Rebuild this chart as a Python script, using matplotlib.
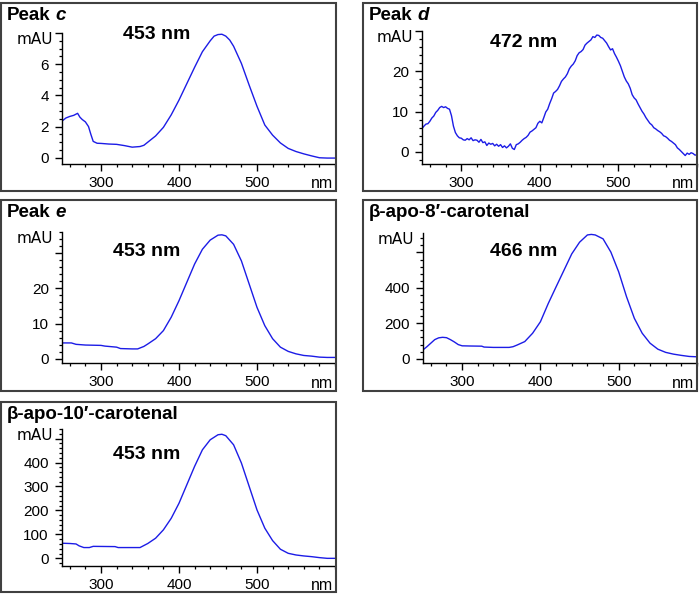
import matplotlib
matplotlib.use("Agg")
import matplotlib.pyplot as plt
from matplotlib.patches import Rectangle
from matplotlib.ticker import MultipleLocator, FixedLocator

plt.rcParams['font.family'] = ['Liberation Sans', 'DejaVu Sans']

W, H = 700, 594
line_color = "#1c1ce6"
box_color = "#404040"

# Peak c
wl_c = [250, 255, 260, 265, 270, 273, 276, 280, 284, 287, 290, 295, 300, 310, 320, 330,
        340, 350, 355, 360, 370, 380, 390, 400, 410, 420, 430, 440, 445, 450, 455, 460,
        465, 470, 480, 490, 500, 510, 520, 530, 540, 550, 560, 570, 580, 590, 600]
abs_c = [2.35, 2.55, 2.65, 2.72, 2.85, 2.6, 2.45, 2.3, 2.0, 1.5, 1.05, 0.93, 0.92, 0.88, 0.86, 0.78,
         0.68, 0.72, 0.8, 1.0, 1.4, 1.95, 2.75, 3.7, 4.75, 5.8, 6.8, 7.5, 7.8, 7.9, 7.92, 7.8,
         7.55, 7.15, 6.05, 4.65, 3.3, 2.1, 1.45, 0.95, 0.6, 0.4, 0.25, 0.12, 0.0, -0.02, -0.02]

# Peak d (noisy trace, read every 2.5 nm from 250 nm)
abs_d = [5.8, 6.4, 6.9, 7.0, 7.6, 8.4, 8.9, 9.8, 10.3, 11.0, 11.3, 11.0, 11.2, 10.8, 10.6, 9.0,
         6.4, 4.8, 4.0, 3.5, 3.4, 3.0, 2.9, 3.3, 3.0, 3.5, 2.8, 3.0, 2.9, 2.4, 3.1, 2.3,
         2.5, 1.6, 2.2, 1.9, 2.1, 1.5, 1.9, 1.4, 1.8, 1.1, 1.5, 1.0, 1.4, 2.0, 0.9, 0.6,
         1.8, 2.0, 2.4, 2.9, 3.3, 3.6, 4.1, 4.9, 5.2, 5.6, 6.0, 7.1, 7.6, 7.2, 8.5, 9.9,
         10.6, 12.0, 13.2, 14.6, 15.0, 15.5, 16.4, 17.5, 18.1, 18.6, 19.4, 20.6, 21.3, 21.8,
         22.6, 23.9, 24.6, 24.9, 25.4, 26.5, 27.0, 27.4, 27.8, 28.6, 28.4, 29.0, 28.9, 28.4,
         28.2, 27.6, 27.0, 26.1, 25.3, 25.6, 24.4, 23.5, 22.5, 21.4, 20.0, 18.6, 17.6, 16.9,
         15.8, 14.2, 13.4, 12.9, 11.9, 11.0, 10.1, 9.4, 8.5, 7.8, 7.1, 6.7, 6.0, 5.7,
         5.3, 5.0, 4.6, 4.0, 3.8, 3.4, 2.9, 2.6, 2.2, 1.8, 1.0, 0.6, 0.1, -0.4, -0.9, -0.3,
         -0.6, -0.2, -0.4, -0.8, -0.7]
wl_d = [250 + 2.5 * i for i in range(len(abs_d))]

# Peak e
wl_e = [250, 262, 268, 280, 300, 305, 320, 325, 340, 347, 355, 360, 370, 380, 390, 400,
        410, 420, 430, 440, 450, 455, 460, 470, 480, 490, 500, 510, 520, 530, 540, 550,
        560, 570, 580, 590, 600]
abs_e = [4.5, 4.5, 4.1, 3.9, 3.8, 3.6, 3.3, 2.9, 2.8, 2.8, 3.5, 4.2, 5.7, 8.0, 11.8, 16.5,
         21.7, 26.9, 31.1, 33.7, 35.1, 35.2, 34.9, 32.5, 27.8, 21.2, 14.6, 9.4, 5.7, 3.3, 2.1, 1.4,
         0.94, 0.75, 0.47, 0.38, 0.38]

# beta-apo-8'-carotenal
wl_8 = [250, 255, 260, 265, 270, 275, 280, 285, 290, 295, 300, 310, 325, 328, 340, 360,
        365, 370, 380, 390, 400, 410, 420, 430, 440, 450, 460, 465, 470, 480, 490, 500,
        510, 520, 530, 540, 550, 560, 570, 580, 590, 600]
abs_8 = [50, 68, 88, 108, 118, 121, 119, 108, 95, 80, 73, 72, 71, 66, 64, 64,
         68, 77, 97, 144, 209, 312, 406, 499, 592, 658, 699, 702, 699, 677, 602, 490,
         350, 228, 144, 88, 54, 36, 26, 19, 13, 11]

# beta-apo-10'-carotenal
wl_10 = [250, 260, 268, 272, 278, 285, 290, 318, 322, 350, 360, 370, 380, 390, 400, 410,
         420, 430, 440, 450, 455, 460, 470, 480, 490, 500, 510, 520, 530, 540, 550, 560,
         570, 580, 590, 600]
abs_10 = [63, 62, 60, 52, 45, 45, 50, 49, 45, 45, 62, 84, 119, 167, 230, 307,
          384, 453, 495, 516, 518, 512, 474, 398, 300, 202, 126, 74, 38, 21, 14, 10,
          7, 3, 0, 0]

x_major = [300, 400, 500]


def fx(px):
    return px / W


def fy(py):
    return 1 - py / H


def panel(box, axr, wl, ab, ylim, yticks, ylabels, yminor, title, title_it, peak, peak_xy):
    bl, bt, br, bb = box
    fig.add_artist(Rectangle((fx(bl), fy(bb)), fx(br - bl), (bb - bt) / H,
                             transform=fig.transFigure, fill=False,
                             edgecolor=box_color, linewidth=1.5))
    al, at, ar, ab_ = axr
    ax = fig.add_axes([fx(al), fy(ab_), fx(ar - al), (ab_ - at) / H])
    ax.patch.set_alpha(0)
    ax.plot(wl, ab, color=line_color, linewidth=1.0)
    ax.set_xlim(250, 600)
    ax.set_ylim(*ylim)
    ax.xaxis.set_major_locator(FixedLocator(x_major))
    ax.xaxis.set_minor_locator(MultipleLocator(20))
    ax.yaxis.set_major_locator(FixedLocator(yticks))
    ax.set_yticklabels(ylabels)
    ax.yaxis.set_minor_locator(MultipleLocator(yminor))
    for s in ["top", "right"]:
        ax.spines[s].set_visible(False)
    for s in ["left", "bottom"]:
        ax.spines[s].set_linewidth(1.0)
    ax.tick_params(which="major", direction="out", length=5, width=1.0,
                   labelsize=11, pad=3.5)
    ax.tick_params(which="minor", direction="out", length=2.5, width=0.9)
    ax.tick_params(axis="y", which="major", pad=4.5)

    t = fig.text(fx(bl + 6), fy(bt + 17), title, ha="left", va="baseline",
                 fontsize=13.5, fontweight="bold")
    if title_it:
        ax.annotate(title_it, xy=(1, 0), xycoords=t, xytext=(3.5, 0),
                    textcoords="offset points", ha="left", va="bottom",
                    fontsize=13.5, fontweight="bold", fontstyle="italic",
                    annotation_clip=False)
    fig.text(fx(al - 9), fy(at + 6), "mAU", ha="right", va="center",
             fontsize=11, family="DejaVu Sans")
    fig.text(fx(br - 3), fy(ab_ + 20), "nm", ha="right", va="center", fontsize=11.5)
    fig.text(fx(peak_xy[0]), fy(peak_xy[1]), peak, ha="left", va="baseline",
             fontsize=14, fontweight="bold")
    return ax


fig = plt.figure(figsize=(7, 5.94), dpi=100)

panel((1, 3, 336, 191), (62, 33, 335, 164), wl_c, abs_c, (-0.4, 8),
      [0, 2, 4, 6, 8], ["0", "2", "4", "6", ""], 0.5, "Peak", "c", "453 nm", (123, 39))
panel((363, 3, 697, 191), (422, 31, 697, 164), wl_d, abs_d, (-3, 30),
      [0, 10, 20, 30], ["0", "10", "20", ""], 2, "Peak", "d", "472 nm", (490, 47))
panel((1, 200, 336, 391), (62, 232, 335, 363), wl_e, abs_e, (-1.2, 36),
      [0, 10, 20, 30], ["0", "10", "20", ""], 2, "Peak", "e", "453 nm", (113, 256))
panel((363, 200, 697, 391), (423, 233, 697, 363), wl_8, abs_8, (-24, 710),
      [0, 200, 400, 600], ["0", "200", "400", ""], 40, "β-apo-8′-carotenal", None,
      "466 nm", (490, 256))
panel((1, 402, 336, 592), (62, 429, 335, 566), wl_10, abs_10, (-32, 540),
      [0, 100, 200, 300, 400, 500], ["0", "100", "200", "300", "400", ""], 20,
      "β-apo-10′-carotenal", None, "453 nm", (113, 459))

fig.savefig("out.png", dpi=100)
